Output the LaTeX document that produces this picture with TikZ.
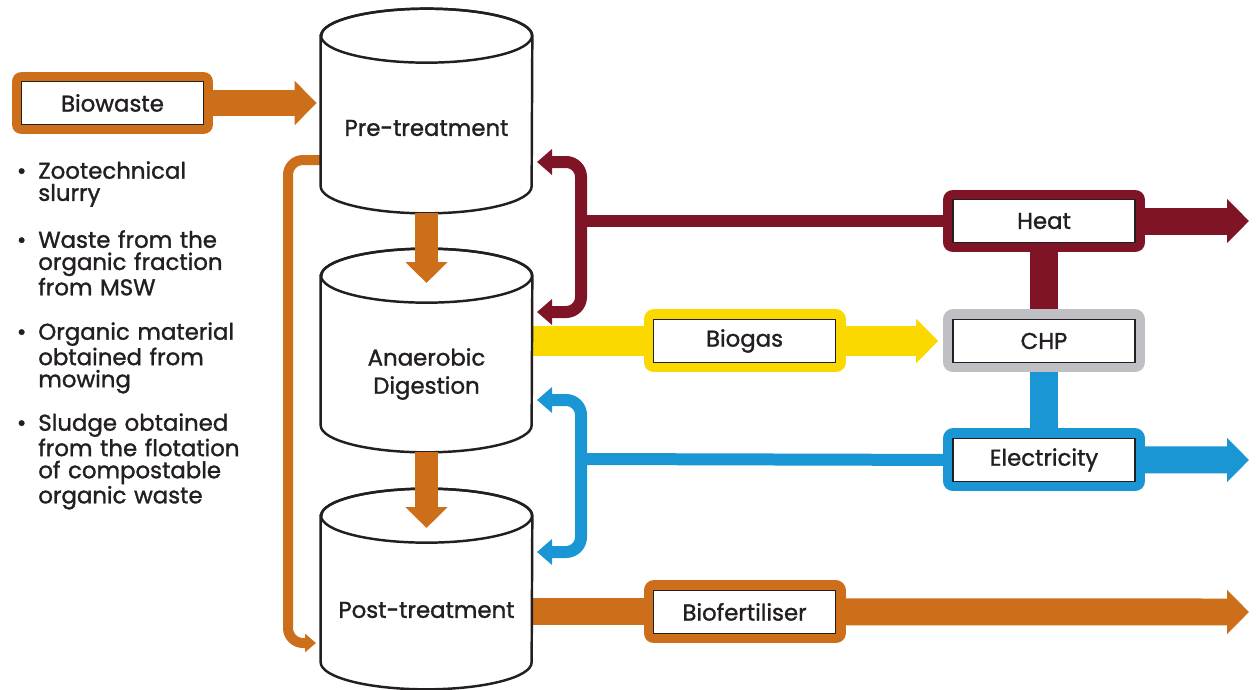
\documentclass[tikz,border=0pt]{standalone}
\usepackage{fontspec}
\setmainfont{Poppins}[UprightFeatures={FakeBold=1.3}]
\usetikzlibrary{arrows.meta,positioning,backgrounds}

\definecolor{wasteorange}{RGB}{204,110,26}
\definecolor{heatred}{RGB}{126,20,38}
\definecolor{gasyellow}{RGB}{250,216,0}
\definecolor{elecblue}{RGB}{26,150,212}
\definecolor{chpgray}{RGB}{192,192,196}
\definecolor{ink}{RGB}{35,31,32}
\lineskiplimit=-5pt

\begin{document}
\begin{tikzpicture}[
  x=0.02cm, y=-0.02cm,
  font=\fontsize{13}{12.6}\selectfont, text=ink,
  tank/.style={rectangle, minimum width=4.22cm, inner sep=0pt},
  flowbox/.style={rectangle, draw=ink, line width=0.9pt, fill=white,
    minimum width=3.64cm, minimum height=0.86cm, inner sep=0pt,
    preaction={draw=#1, line width=0.4cm, line join=round}},
  flow/.style={draw=#1, line width=0.54cm, -{Triangle[width=0.86cm,length=0.44cm]}},
  link/.style={draw=#1, line width=0.54cm},
  feed/.style={draw=#1, line width=0.24cm, rounded corners=0.3cm,
    {Triangle[width=0.5cm,length=0.3cm]}-{Triangle[width=0.5cm,length=0.3cm]}},
  drop/.style={draw=wasteorange, line width=0.46cm, -{Triangle[width=0.82cm,length=0.42cm]}},
  recycle/.style={draw=wasteorange, line width=0.2cm, rounded corners=0.3cm,
    -{Triangle[width=0.36cm,length=0.22cm]}},
  source/.style={anchor=north west, text width=4.4cm, align=left, inner sep=0pt}
]
\useasboundingbox (0,0) rectangle (1259,690);

% the three tanks
\node[tank, minimum height=4.08cm] (pre) at (426.5,111) {};
\node[tank, minimum height=4.06cm] (ad) at (426.5,350.5) {};
\node[tank, minimum height=4cm] (post) at (426.5,589) {};

% products
\node[flowbox=wasteorange] (bw) at (112.5,103) {Biowaste};
\node[flowbox=heatred] (heat) at (1044,221) {Heat};
\node[flowbox=chpgray, below of=heat, node distance=2.4cm] (chp) {CHP};
\node[flowbox=elecblue, below of=chp, node distance=2.38cm] (elec) {Electricity};
\node[flowbox=gasyellow, left of=chp, node distance=5.99cm] (gas) {Biogas};
\node[flowbox=wasteorange, below of=gas, node distance=5.42cm] (fert) {Biofertiliser};

% inputs
\node[source] (src1) at (38,161) {\llap{\textbullet\hspace{0.24cm}}Zootechnical\\slurry};
\node[source] (src2) at (38,230) {\llap{\textbullet\hspace{0.24cm}}Waste from the\\organic fraction\\from MSW};
\node[source] (src3) at (38,322) {\llap{\textbullet\hspace{0.24cm}}Organic material\\obtained from\\mowing};
\node[source] (src4) at (38,413) {\llap{\textbullet\hspace{0.24cm}}Sludge obtained\\from the flotation\\of compostable\\organic waste};

\coordinate (heatTop) at (537,162);
\coordinate (heatJoin) at (581,221);
\coordinate (heatBot) at (537,312);
\coordinate (elecTop) at (537,400);
\coordinate (elecJoin) at (581,459);
\coordinate (elecBot) at (537,552);
\coordinate (heatOut) at (1249,221);
\coordinate (elecOut) at (1249,460);
\coordinate (fertOut) at (1249,612);
\coordinate (recStart) at (321,160);
\coordinate (recCorner) at (288,643);
\coordinate (recEnd) at (316,643);
\coordinate (adDrop) at (426.5,283);
\coordinate (postDrop) at (426.5,528);

\begin{scope}[on background layer]
\draw[flow=wasteorange, shorten >=0.08cm] (bw.east) -- (bw.east -| pre.west);
\draw[recycle] (recStart) -| (recCorner) -- (recEnd);
\draw[feed=heatred] (heatTop) -| (heatJoin) |- (heatBot);
\draw[heatred, line width=0.24cm] (heat.west) -- (heatJoin);
\draw[feed=elecblue] (elecTop) -| (elecJoin) |- (elecBot);
\draw[elecblue, line width=0.24cm] (elec.west) -- (elecJoin);
\draw[link=gasyellow, line width=0.6cm] (ad.east |- gas.west) -- (gas.west);
\draw[flow=gasyellow, line width=0.6cm, shorten >=0.28cm] (gas.east) -- (chp.west);
\draw[link=heatred, line width=0.56cm] (heat.south) -- (chp.north);
\draw[link=elecblue, line width=0.56cm] (chp.south) -- (elec.north);
\draw[flow=heatred] (heat.east) -- (heatOut);
\draw[flow=elecblue] (elec.east) -- (elecOut);
\draw[link=wasteorange] (post.east |- fert.west) -- (fert.west);
\draw[flow=wasteorange] (fert.east) -- (fertOut);
\end{scope}

\foreach \t in {pre,ad,post}{
  \draw[ink, line width=1.4pt, fill=white]
    ([yshift=-0.54cm]\t.north west) -- ([yshift=0.54cm]\t.south west)
    arc[start angle=180, end angle=360, x radius=2.11cm, y radius=0.54cm]
    -- ([yshift=-0.54cm]\t.north east)
    arc[start angle=0, end angle=180, x radius=2.11cm, y radius=0.54cm] -- cycle;
  \draw[ink, line width=1.4pt] ([yshift=-0.54cm]\t.north) ellipse[x radius=2.11cm, y radius=0.54cm];
}

\node (preLabel) at (426.5,128) {Pre-treatment};
\node[align=center, font=\fontsize{13}{16}\selectfont] (adLabel) at (426.5,374) {Anaerobic\\Digestion};
\node (postLabel) at (426.5,610) {Post-treatment};

\draw[drop] (pre.south) -- (adDrop);
\draw[drop] (ad.south) -- (postDrop);
\end{tikzpicture}
\end{document}
